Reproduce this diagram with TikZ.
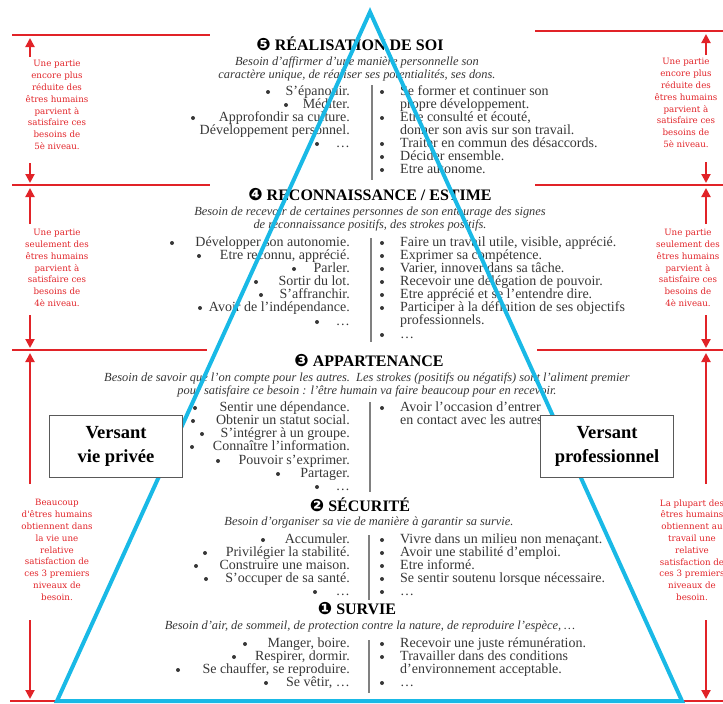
\documentclass[tikz,border=0pt]{standalone}
\usepackage{fontspec}
\setmainfont{Liberation Serif}
\newfontfamily\redfont{DejaVu Serif}
\newfontfamily\dingfont{DejaVu Sans}
\usetikzlibrary{arrows.meta}

\definecolor{pyrblue}{RGB}{25,185,230}
\definecolor{levelred}{RGB}{225,35,40}
\definecolor{bodygray}{RGB}{55,55,55}

\newcommand{\rang}[1]{{\dingfont\fontsize{17}{17}\selectfont #1}}

\tikzset{
  titre/.style={font=\fontsize{16}{18}\selectfont\bfseries, inner sep=0pt},
  besoin/.style={font=\fontsize{12.4}{12.6}\selectfont\itshape, text=bodygray, align=center, inner sep=0pt},
  gauche/.style={anchor=base east, yshift=-3pt, font=\fontsize{14}{13}\selectfont, text=bodygray, inner sep=0pt},
  droite/.style={anchor=base west, yshift=-3pt, font=\fontsize{14}{13}\selectfont, text=bodygray, inner sep=0pt},
  rouge/.style={text=levelred, font=\redfont\fontsize{8.7}{11.8}\selectfont, align=center, inner sep=0pt},
  versant/.style={draw=gray!70!black, fill=white, line width=1pt, align=center,
    font=\fontsize{18.5}{24}\selectfont\bfseries, minimum width=133pt, minimum height=62pt},
  niveau/.style={levelred, line width=2.5pt},
  fleche/.style={levelred, line width=2pt, -{Triangle[width=9pt,length=9pt]}},
  separ/.style={gray, line width=1.5pt},
  puce/.style={bodygray},
}

\begin{document}
\begin{tikzpicture}[x=1pt, y=-1pt]
\useasboundingbox (0,0) rectangle (723,704);

% niveau 5
\node[titre] (t5) at (350,44) {\rang{❺} RÉALISATION DE SOI};
\node[besoin] (b5) at (357,69) {Besoin d'affirmer d'une manière personnelle son\\caractère unique, de réaliser ses potentialités, ses dons.};
\foreach \y/\bx/\txt [count=\k] in {92/268/{S'épanouir.}, 105/286/{Méditer.},
    118/193/{Approfondir sa culture.}, 144/317/{\dots}} {
  \node[gauche] (g5-\k) at (350,\y) {\txt};
  \fill[puce] (\bx,\y) circle (2);
}
\node[gauche] (g5-x) at (350,131) {Développement personnel.};
\foreach \y/\txt [count=\k] in {92/{Se former et continuer son}, 105/{propre développement.},
    118/{Etre consulté et écouté,}, 131/{donner son avis sur son travail.},
    144/{Traiter en commun des désaccords.}, 157/{Décider ensemble.}, 170/{Etre autonome.}}
  \node[droite] (d5-\k) at (400,\y) {\txt};
\foreach \y in {92,118,144,157,170} \fill[puce] (382,\y) circle (2);
\draw[separ] (372,85) -- (372,180);

% niveau 4
\node[titre] (t4) at (370,195) {\rang{❹} RECONNAISSANCE / ESTIME};
\node[besoin] (b4) at (370,219) {Besoin de recevoir de certaines personnes de son entourage des signes\\de reconnaissance positifs, des strokes positifs.};
\foreach \y/\bx/\txt [count=\k] in {243/172/{Développer son autonomie.}, 256/199/{Etre reconnu, apprécié.},
    269/294/{Parler.}, 282/256/{Sortir du lot.}, 295/261/{S'affranchir.},
    308/200/{Avoir de l'indépendance.}, 322/317/{\dots}} {
  \node[gauche] (g4-\k) at (350,\y) {\txt};
  \fill[puce] (\bx,\y) circle (2);
}
\foreach \y/\txt [count=\k] in {243/{Faire un travail utile, visible, apprécié.}, 256/{Exprimer sa compétence.},
    269/{Varier, innover dans sa tâche.}, 282/{Recevoir une délégation de pouvoir.},
    295/{Etre apprécié et se l'entendre dire.}, 308/{Participer à la définition de ses objectifs},
    321/{professionnels.}, 335/{\dots}}
  \node[droite] (d4-\k) at (400,\y) {\txt};
\foreach \y in {243,256,269,282,295,308,335} \fill[puce] (382,\y) circle (2);
\draw[separ] (371,238) -- (371,342);

% niveau 3
\node[titre] (t3) at (369,361) {\rang{❸} APPARTENANCE};
\node[besoin] (b3) at (367,385) {Besoin de savoir que l'on compte pour les autres.\ \ Les strokes (positifs ou négatifs) sont l'aliment premier\\pour satisfaire ce besoin : l'être humain va faire beaucoup pour en recevoir.};
\foreach \y/\bx/\txt [count=\k] in {408/195/{Sentir une dépendance.}, 421/193/{Obtenir un statut social.},
    434/202/{S'intégrer à un groupe.}, 447/192/{Connaître l'information.},
    461/218/{Pouvoir s'exprimer.}, 474/278/{Partager.}, 487/317/{\dots}} {
  \node[gauche] (g3-\k) at (350,\y) {\txt};
  \fill[puce] (\bx,\y) circle (2);
}
\node[droite] (d3-1) at (400,408) {Avoir l'occasion d'entrer};
\node[droite] (d3-2) at (400,421) {en contact avec les autres.};
\fill[puce] (382,408) circle (2);
\draw[separ] (370,402) -- (370,492);

% niveau 2
\node[titre] (t2) at (360,505) {\rang{❷} SÉCURITÉ};
\node[besoin] (b2) at (369,523) {Besoin d'organiser sa vie de manière à garantir sa survie.};
\foreach \y/\bx/\txt [count=\k] in {540/263/{Accumuler.}, 553/205/{Privilégier la stabilité.},
    566/196/{Construire une maison.}, 579/206/{S'occuper de sa santé.}, 592/315/{\dots}} {
  \node[gauche] (g2-\k) at (350,\y) {\txt};
  \fill[puce] (\bx,\y) circle (2);
}
\foreach \y/\txt [count=\k] in {540/{Vivre dans un milieu non menaçant.}, 553/{Avoir une stabilité d'emploi.},
    566/{Etre informé.}, 579/{Se sentir soutenu lorsque nécessaire.}, 592/{\dots}} {
  \node[droite] (d2-\k) at (400,\y) {\txt};
  \fill[puce] (382,\y) circle (2);
}
\draw[separ] (369,535) -- (369,600);

% niveau 1
\node[titre] (t1) at (357,609) {\rang{❶} SURVIE};
\node[besoin] (b1) at (370,627) {Besoin d'air, de sommeil, de protection contre la nature, de reproduire l'espèce, \dots};
\foreach \y/\bx/\txt [count=\k] in {644/245/{Manger, boire.}, 657/234/{Respirer, dormir.},
    670/178/{Se chauffer, se reproduire.}, 683/266/{Se vêtir, \dots}} {
  \node[gauche] (g1-\k) at (350,\y) {\txt};
  \fill[puce] (\bx,\y) circle (2);
}
\foreach \y/\txt [count=\k] in {644/{Recevoir une juste rémunération.}, 657/{Travailler dans des conditions},
    670/{d'environnement acceptable.}, 683/{\dots}}
  \node[droite] (d1-\k) at (400,\y) {\txt};
\foreach \y in {644,657,683} \fill[puce] (382,\y) circle (2);
\draw[separ] (369,640) -- (369,693);

% lignes de niveau
\draw[niveau] (12,35) -- (210,35);
\draw[niveau] (535,31) -- (723,31);
\draw[niveau] (12,185) -- (210,185);
\draw[niveau] (535,185) -- (723,185);
\draw[niveau] (12,350) -- (207,350);
\draw[niveau] (537,350) -- (723,350);
\draw[niveau] (10,701) -- (723,701);

% pyramide
\coordinate (sommet) at (370,12);
\coordinate (baseg) at (57,701);
\coordinate (based) at (682,701);
\draw[pyrblue, line width=4pt, line join=miter] (baseg) -- (sommet) -- (based) -- cycle;

% versants
\node[versant] (vp) at (116,446) {Versant\\vie privée};
\node[versant] (vpro) at (607,446) {Versant\\professionnel};

% textes rouges
\node[rouge] (r5g) at (57,105) {Une partie\\encore plus\\réduite des\\êtres humains\\parvient à\\satisfaire ces\\besoins de\\5è niveau.};
\node[rouge] (r5d) at (686,103) {Une partie\\encore plus\\réduite des\\êtres humains\\parvient à\\satisfaire ces\\besoins de\\5è niveau.};
\node[rouge] (r4g) at (57,268) {Une partie\\seulement des\\êtres humains\\parvient à\\satisfaire ces\\besoins de\\4è niveau.};
\node[rouge] (r4d) at (688,268) {Une partie\\seulement des\\êtres humains\\parvient à\\satisfaire ces\\besoins de\\4è niveau.};
\node[rouge] (r3g) at (57,550) {Beaucoup\\d'êtres humains\\obtiennent dans\\la vie une\\relative\\satisfaction de\\ces 3 premiers\\niveaux de\\besoin.};
\node[rouge] (r3d) at (692,550) {La plupart des\\êtres humains\\obtiennent au\\travail une\\relative\\satisfaction de\\ces 3 premiers\\niveaux de\\besoin.};

% fleches gauche
\coordinate (ag5a) at (30,57);  \coordinate (ag5b) at (30,38);
\coordinate (ag5c) at (30,163); \coordinate (ag5d) at (30,183);
\coordinate (ag4a) at (30,224); \coordinate (ag4b) at (30,188);
\coordinate (ag4c) at (30,315); \coordinate (ag4d) at (30,348);
\coordinate (ag3a) at (30,484); \coordinate (ag3b) at (30,353);
\coordinate (ag3c) at (30,620); \coordinate (ag3d) at (30,699);
\draw[fleche] (ag5a) -- (ag5b);
\draw[fleche] (ag5c) -- (ag5d);
\draw[fleche] (ag4a) -- (ag4b);
\draw[fleche] (ag4c) -- (ag4d);
\draw[fleche] (ag3a) -- (ag3b);
\draw[fleche] (ag3c) -- (ag3d);
% fleches droite
\coordinate (ad5a) at (706,55);  \coordinate (ad5b) at (706,34);
\coordinate (ad5c) at (706,162); \coordinate (ad5d) at (706,183);
\coordinate (ad4a) at (706,224); \coordinate (ad4b) at (706,188);
\coordinate (ad4c) at (706,315); \coordinate (ad4d) at (706,348);
\coordinate (ad3a) at (706,484); \coordinate (ad3b) at (706,353);
\coordinate (ad3c) at (706,620); \coordinate (ad3d) at (706,699);
\draw[fleche] (ad5a) -- (ad5b);
\draw[fleche] (ad5c) -- (ad5d);
\draw[fleche] (ad4a) -- (ad4b);
\draw[fleche] (ad4c) -- (ad4d);
\draw[fleche] (ad3a) -- (ad3b);
\draw[fleche] (ad3c) -- (ad3d);
\end{tikzpicture}
\end{document}
